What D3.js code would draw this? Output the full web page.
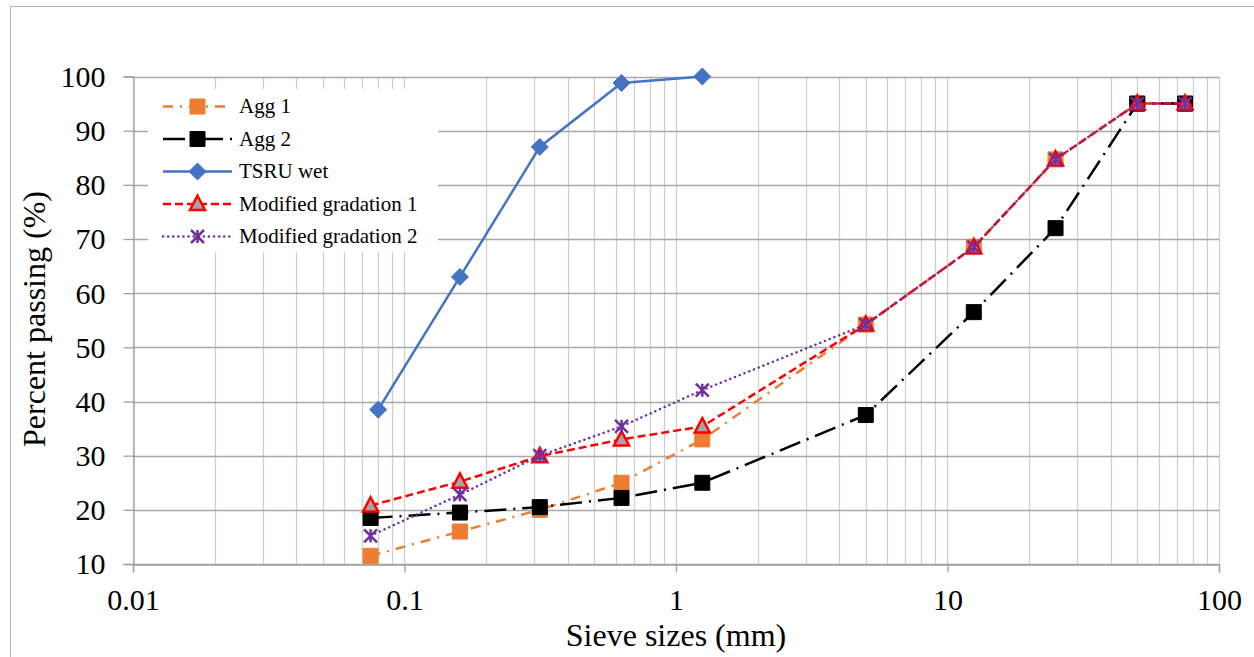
<!DOCTYPE html>
<html>
<head>
<meta charset="utf-8">
<script src="https://cdn.jsdelivr.net/npm/d3@7"></script>
<style>
  html, body { margin: 0; padding: 0; background: #fff; }
  svg { display: block; }
  text { font-family: "Liberation Serif", "Times New Roman", serif; fill: #000; }
</style>
</head>
<body>
<svg id="chart" width="1254" height="657"></svg>
<script>
// Sieve sizes (mm) shared by the aggregate and modified gradation series
const sieves = [0.075, 0.16, 0.315, 0.63, 1.25, 5, 12.5, 25, 50, 75];
const agg1 = [11.5, 16, 20, 25, 33, 54.2, 68.5, 84.7, 95, 95];
const agg2 = [18.5, 19.5, 20.5, 22.2, 25, 37.5, 56.5, 72, 95, 95];
const modGrad1 = [20.8, 25.2, 29.9, 33, 35.4, 54.2, 68.5, 84.7, 95, 95];
const modGrad2 = [15.2, 22.8, 30, 35.4, 42.1, 54.2, 68.5, 84.7, 95, 95];

// TSRU wet uses its own sieve set
const tsruSieves = [0.08, 0.16, 0.315, 0.63, 1.25];
const tsruWet = [38.5, 63, 87, 98.8, 100];

const xTicks = [0.01, 0.1, 1, 10, 100];
const xTickLabels = ["0.01", "0.1", "1", "10", "100"];
const yTicks = [10, 20, 30, 40, 50, 60, 70, 80, 90, 100];

const seriesNames = ["Agg 1", "Agg 2", "TSRU wet", "Modified gradation 1", "Modified gradation 2"];

const svg = d3.select("#chart");
const plot = { left: 133, right: 1219, top: 76.5, bottom: 564 };

// outer chart frame
svg.append("rect")
  .attr("x", 10.5).attr("y", 6.5)
  .attr("width", 1300).attr("height", 700)
  .attr("fill", "#fff").attr("stroke", "#b4b4b4").attr("stroke-width", 1);

const x = d3.scaleLog().domain([0.01, 100]).range([plot.left, plot.right]);
const y = d3.scaleLinear().domain([10, 100]).range([plot.bottom, plot.top]);

// vertical gridlines at every 1..9 of each decade
const minorX = [];
for (let e = -2; e < 2; e++) {
  for (let m = 1; m <= 9; m++) minorX.push(m * Math.pow(10, e));
}
minorX.push(100);

const grid = svg.append("g");
grid.selectAll("line.v").data(minorX).join("line")
  .attr("class", "v")
  .attr("x1", d => Math.round(x(d)) + 0.5).attr("x2", d => Math.round(x(d)) + 0.5)
  .attr("y1", plot.top).attr("y2", plot.bottom)
  .attr("stroke", "#cfcfcf").attr("stroke-width", 1.3);

grid.selectAll("line.h").data(yTicks).join("line")
  .attr("class", "h")
  .attr("x1", plot.left).attr("x2", plot.right)
  .attr("y1", d => Math.round(y(d)) + 0.5).attr("y2", d => Math.round(y(d)) + 0.5)
  .attr("stroke", "#a9a9a9").attr("stroke-width", 1.3);

// axes
const yAxis = d3.axisLeft(y).tickValues(yTicks).tickSize(10).tickPadding(18)
  .tickFormat(d3.format("d"));
const gy = svg.append("g").attr("transform", `translate(${plot.left + 0.5},0)`).call(yAxis);
gy.select(".domain").attr("stroke", "#a0a0a0").attr("stroke-width", 1.3);
gy.selectAll(".tick line").attr("stroke", "#a0a0a0").attr("stroke-width", 1.3);
gy.selectAll(".tick text").style("font-size", "30px").attr("dy", "0.33em")
  .style("font-family", "'Liberation Serif', serif").attr("fill", "#000");

const xAxis = d3.axisBottom(x).tickValues(xTicks).tickSize(8).tickPadding(16)
  .tickFormat((d, i) => xTickLabels[i]);
const gx = svg.append("g").attr("transform", `translate(0,${plot.bottom + 0.5})`).call(xAxis);
gx.select(".domain").attr("stroke", "#a0a0a0").attr("stroke-width", 1.3);
gx.selectAll(".tick line").attr("stroke", "#a0a0a0").attr("stroke-width", 1.3);
gx.selectAll(".tick text").style("font-size", "30px")
  .style("font-family", "'Liberation Serif', serif").attr("fill", "#000");

// axis titles
svg.append("text")
  .attr("x", 676).attr("y", 646)
  .attr("text-anchor", "middle")
  .style("font-size", "32px")
  .text("Sieve sizes (mm)");

svg.append("text")
  .attr("transform", "translate(45,319) rotate(-90)")
  .attr("text-anchor", "middle")
  .style("font-size", "32px")
  .text("Percent passing (%)");

// marker shapes drawn around the origin
const markerPaths = {
  square: s => `M${-s/2},${-s/2}h${s}v${s}h${-s}Z`,
  diamond: s => `M0,${-s/2}L${s/2},0L0,${s/2}L${-s/2},0Z`,
  triangle: s => `M0,${-s*0.55}L${s/2},${s*0.4}L${-s/2},${s*0.4}Z`,
  star: s => `M${-s/2},${-s/2}L${s/2},${s/2}M${s/2},${-s/2}L${-s/2},${s/2}M0,${-s/2}V${s/2}`
};

const series = [
  { name: seriesNames[0], xs: sieves, ys: agg1, color: "#ED7D31", dash: "10,7,2,7", width: 2.5,
    marker: "square", size: 15, fill: "#ED7D31", mstroke: "#ED7D31", mwidth: 1 },
  { name: seriesNames[1], xs: sieves, ys: agg2, color: "#000000", dash: "22,7,2,7", width: 2.5,
    marker: "square", size: 15, fill: "#000000", mstroke: "#000000", mwidth: 1 },
  { name: seriesNames[2], xs: tsruSieves, ys: tsruWet, color: "#4472C4", dash: null, width: 2.5,
    marker: "diamond", size: 17, fill: "#4472C4", mstroke: "#4472C4", mwidth: 1 },
  { name: seriesNames[3], xs: sieves, ys: modGrad1, color: "#FF0000", dash: "8,4", width: 2.5,
    marker: "triangle", size: 15, fill: "#A5A5A5", mstroke: "#FF0000", mwidth: 2.5 },
  { name: seriesNames[4], xs: sieves, ys: modGrad2, color: "#7030A0", dash: "0.1,5", width: 2.5,
    marker: "star", size: 13, fill: "none", mstroke: "#7030A0", mwidth: 2.5, cap: "round" }
];

const line = d3.line().x(d => x(d[0])).y(d => y(d[1]));

const marks = svg.append("g");
series.forEach(s => {
  const pts = s.xs.map((v, i) => [v, s.ys[i]]);
  const g = marks.append("g");
  g.append("path")
    .attr("d", line(pts))
    .attr("fill", "none")
    .attr("stroke", s.color)
    .attr("stroke-width", s.width)
    .attr("stroke-dasharray", s.dash)
    .attr("stroke-linecap", s.cap || "butt");
  g.selectAll("path.m").data(pts).join("path")
    .attr("class", "m")
    .attr("transform", d => `translate(${x(d[0])},${y(d[1])})`)
    .attr("d", markerPaths[s.marker](s.size))
    .attr("fill", s.fill)
    .attr("stroke", s.mstroke)
    .attr("stroke-width", s.mwidth)
    .attr("stroke-linejoin", "miter");
});

// legend
const legend = svg.append("g");
legend.append("rect")
  .attr("x", 148).attr("y", 89).attr("width", 290).attr("height", 163)
  .attr("fill", "#fff");
series.forEach((s, i) => {
  const cy = 106.5 + i * 32.5;
  const g = legend.append("g").attr("transform", `translate(0,${cy})`);
  g.append("line")
    .attr("x1", 163).attr("x2", 232).attr("y1", 0).attr("y2", 0)
    .attr("stroke", s.color).attr("stroke-width", s.width)
    .attr("stroke-dasharray", s.dash)
    .attr("stroke-linecap", s.cap || "butt");
  g.append("path")
    .attr("transform", "translate(197.5,0)")
    .attr("d", markerPaths[s.marker](s.size))
    .attr("fill", s.fill).attr("stroke", s.mstroke).attr("stroke-width", s.mwidth);
  g.append("text")
    .attr("x", 239).attr("y", 0).attr("dy", "0.33em")
    .style("font-size", "21px")
    .text(s.name);
});
</script>
</body>
</html>
